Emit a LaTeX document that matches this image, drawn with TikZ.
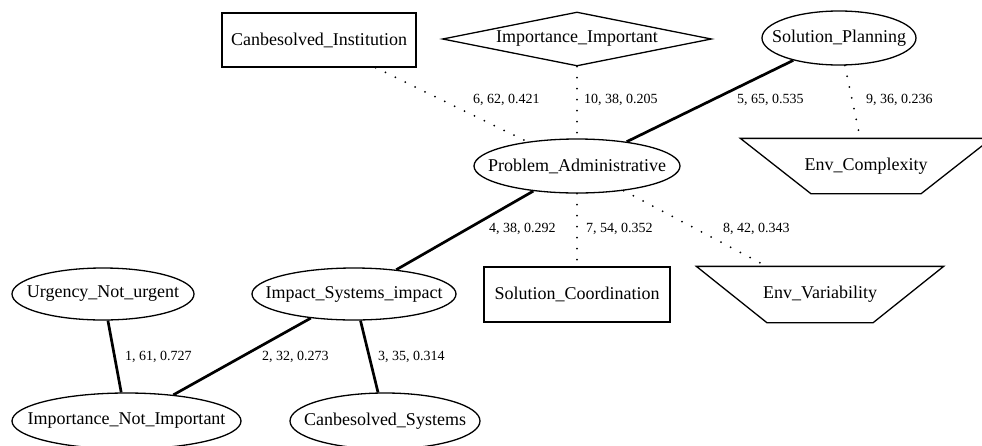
\documentclass[tikz,border=0pt]{standalone}
\usepackage{fontspec}
\setmainfont{Liberation Serif}
\usetikzlibrary{shapes.geometric}
\begin{document}
\begin{tikzpicture}[x=1pt,y=-1pt,
  base/.style={draw, line width=1.3pt, inner sep=0pt, font=\fontsize{18}{20}\selectfont},
  oval/.style={base, ellipse},
  box/.style={base, rectangle},
  gem/.style={base, diamond, aspect=5},
  trapbox/.style={base, rectangle, draw=none},
  trapline/.style={line width=1.3pt},
  strong/.style={line width=2.7pt},
  weak/.style={line width=2pt, line cap=round, dash pattern=on 0pt off 11pt},
  elab/.style={anchor=west, inner sep=0pt, font=\fontsize{14}{16}\selectfont}]
\useasboundingbox (0,0) rectangle (982,445);

% top rank
\node[box, minimum width=194, minimum height=54] (ci) at (319,40) {Canbesolved\_Institution};
\node[gem, minimum width=269, minimum height=54] (ii) at (577,39) {Importance\_Important};
\node[oval, minimum width=154, minimum height=54] (sp) at (839,38) {\makebox[0pt]{Solution\_Planning}};

% second rank
\node[oval, minimum width=206, minimum height=54] (pa) at (577,166) {\makebox[0pt]{Problem\_Administrative}};
\node[trapbox, minimum width=250, minimum height=54] (ec) at (866,166) {Env\_Complexity};

% third rank
\node[oval, minimum width=182, minimum height=52] (un) at (103,294) {\makebox[0pt]{Urgency\_Not\_urgent}};
\node[oval, minimum width=204, minimum height=52] (isi) at (354,294) {\makebox[0pt]{Impact\_Systems\_impact}};
\node[box, minimum width=186, minimum height=55] (sc) at (577,294.5) {Solution\_Coordination};
\node[trapbox, minimum width=246, minimum height=55] (ev) at (820,294.5) {Env\_Variability};

% bottom rank
\node[oval, minimum width=229, minimum height=56] (inn) at (126.5,421) {\makebox[0pt]{Importance\_Not\_Important}};
\node[oval, minimum width=190, minimum height=56] (cs) at (385,421) {\makebox[0pt]{Canbesolved\_Systems}};

% inverted trapezia around the two Env nodes
\foreach \n in {ec,ev}
  \draw[trapline] (\n.north west) -- (\n.north east)
    -- ([xshift=-70.5pt]\n.south east) -- ([xshift=70.5pt]\n.south west) -- cycle;

% connectors
\draw[weak] (ci) -- (pa);
\draw[weak] (ii) -- (pa);
\draw[strong] (sp) -- (pa);
\draw[weak] (sp) -- (ec);
\draw[strong] (pa) -- (isi);
\draw[weak] (pa) -- (sc);
\draw[weak] (pa) -- (ev);
\draw[strong] (un) -- (inn);
\draw[strong] (isi) -- (inn);
\draw[strong] (isi) -- (cs);

% connector labels
\node[elab] (l6) at (473,100) {6, 62, 0.421};
\node[elab] (l10) at (584,100) {10, 38, 0.205};
\node[elab] (l5) at (737,100) {5, 65, 0.535};
\node[elab] (l9) at (866,100) {9, 36, 0.236};
\node[elab] (l4) at (489,229) {4, 38, 0.292};
\node[elab] (l7) at (586,229) {7, 54, 0.352};
\node[elab] (l8) at (723,229) {8, 42, 0.343};
\node[elab] (l1) at (125,357) {1, 61, 0.727};
\node[elab] (l2) at (262,357) {2, 32, 0.273};
\node[elab] (l3) at (378,357) {3, 35, 0.314};
\end{tikzpicture}
\end{document}
